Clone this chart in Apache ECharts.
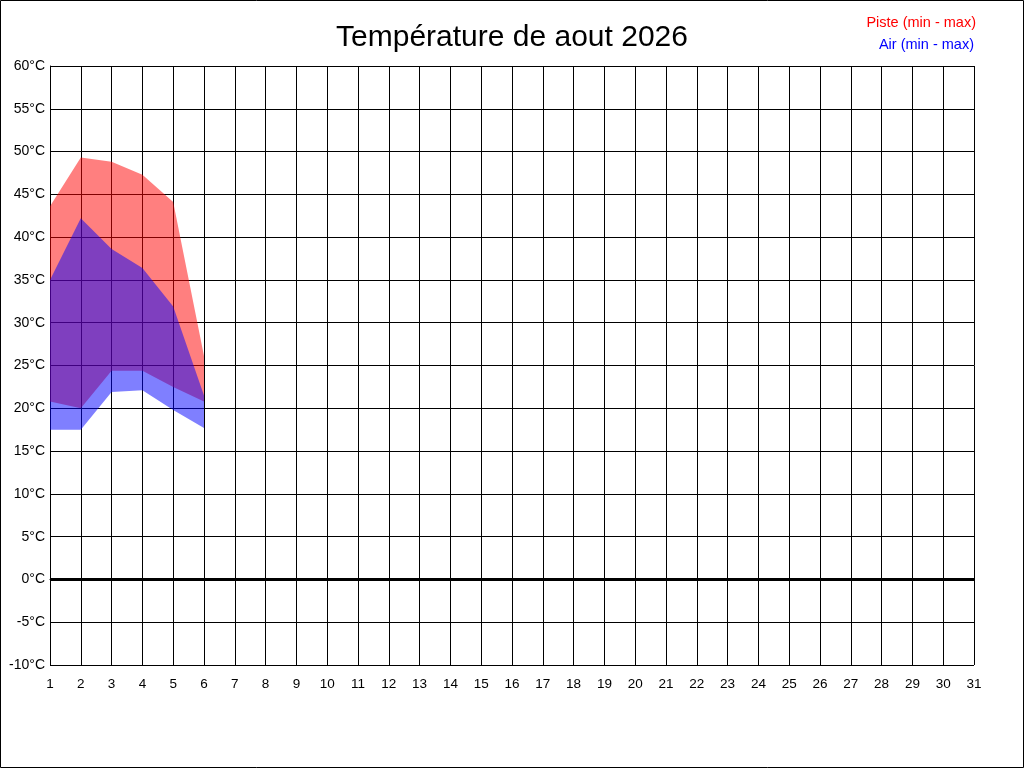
<!DOCTYPE html>
<html><head><meta charset="utf-8">
<script src="https://cdn.jsdelivr.net/npm/echarts@6/dist/echarts.min.js"></script>
<style>html,body{margin:0;padding:0;background:#fff}#c{width:1024px;height:768px}</style>
</head><body><div id="c"></div>
<script>
const days = Array.from({length:31},(_,i)=>String(i+1));
const pisteMin = [20.8, 20.0, 24.4, 24.4, 22.5, 20.8];
const pisteMax = [43.6, 49.3, 48.8, 47.3, 44.1, 26.1];
const airMin = [17.5, 17.5, 21.9, 22.1, 19.8, 17.7];
const airMax = [35.0, 42.2, 38.6, 36.4, 31.9, 21.5];
const yTicksMin = -10, yTicksMax = 60, yStep = 5;

const diff = (a,b)=>a.map((v,i)=>+(b[i]-v).toFixed(2));
const chart = echarts.init(document.getElementById('c'));
const font = 'Liberation Sans, Arial, sans-serif';
chart.setOption({
  animation:false,
  backgroundColor:'#fff',
  title:{text:'Température de aout 2026',left:'center',top:18,textStyle:{fontFamily:font,fontSize:30,fontWeight:'normal',color:'#000'}},
  graphic:[
    {type:'rect',shape:{x:0.5,y:0.5,width:1023,height:767},style:{fill:null,stroke:'#000',lineWidth:1},silent:true},
    {type:'text',right:48,top:15,style:{text:'Piste (min - max)',fill:'#ff0000',font:'14.5px '+font}},
    {type:'text',right:50,top:37,style:{text:'Air (min - max)',fill:'#0000ff',font:'14.5px '+font}}
  ],
  grid:{left:50,right:50,top:66,bottom:103,containLabel:false},
  xAxis:{type:'category',data:days,boundaryGap:false,
    axisLine:{lineStyle:{color:'#000',width:1}},axisTick:{show:false},
    axisLabel:{color:'#000',fontFamily:font,fontSize:13.5,margin:12,interval:0},
    splitLine:{show:true,interval:0,lineStyle:{color:'#000',width:1}}},
  yAxis:{type:'value',min:yTicksMin,max:yTicksMax,interval:yStep,
    axisLine:{show:true,lineStyle:{color:'#000'}},axisTick:{show:false},
    axisLabel:{color:'#000',fontFamily:font,fontSize:14,margin:5,formatter:'{value}°C'},
    splitLine:{show:true,lineStyle:{color:'#000',width:1}}},
  series:[
    {name:'pisteBase',type:'line',stack:'piste',data:pisteMin,symbol:'none',lineStyle:{width:0},silent:true},
    {name:'Piste (min - max)',type:'line',stack:'piste',data:diff(pisteMin,pisteMax),symbol:'none',lineStyle:{width:0},
      areaStyle:{color:'rgba(255,0,0,0.5)',opacity:1},silent:true},
    {name:'airBase',type:'line',stack:'air',data:airMin,symbol:'none',lineStyle:{width:0},silent:true},
    {name:'Air (min - max)',type:'line',stack:'air',data:diff(airMin,airMax),symbol:'none',lineStyle:{width:0},
      areaStyle:{color:'rgba(0,0,255,0.5)',opacity:1},silent:true,
      markLine:{silent:true,symbol:'none',label:{show:false},lineStyle:{color:'#000',width:3,type:'solid'},data:[{yAxis:0}]}}
  ]
});
</script></body></html>
